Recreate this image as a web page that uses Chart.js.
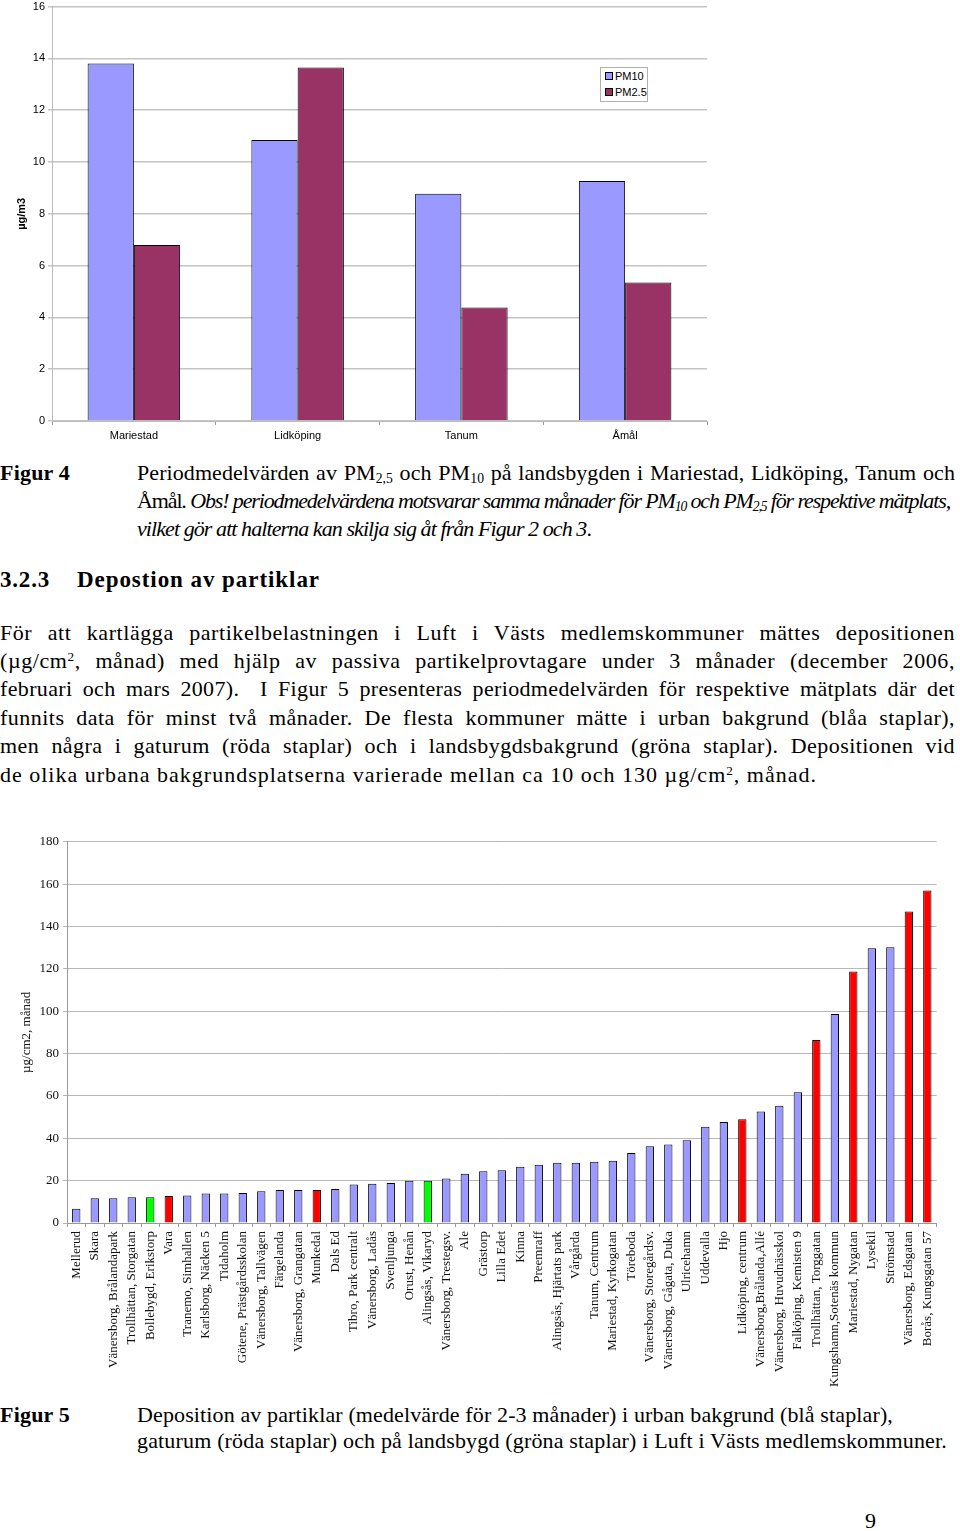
<!DOCTYPE html>
<html>
<head>
<meta charset="utf-8">
<script src="https://cdn.jsdelivr.net/npm/chart.js@4.4.1/dist/chart.umd.min.js"></script>
<style>
  body { margin: 0; width: 960px; height: 1531px; position: relative; background: #fff; overflow: hidden;
         font-family: "Liberation Serif", "DejaVu Serif", serif; color: #000; }
  .abs { position: absolute; white-space: nowrap; }
  .ln { position: absolute; font-size: 22px; line-height: 28px; white-space: nowrap; }
  .jl { text-align: justify; text-align-last: justify; }
  .bold { font-weight: bold; }
  sub { font-size: 0.62em; vertical-align: -0.25em; line-height: 0; }
  sup { font-size: 0.6em; vertical-align: 0.55em; line-height: 0; }
  #legend1 { position: absolute; left: 600px; top: 67px; width: 46px; height: 33px; border: 1px solid #b0b0b0;
             background: #fff; font-family: "Liberation Sans", Arial, sans-serif; font-size: 11px; }
  #legend1 div { height: 15px; line-height: 15px; padding-left: 4px; margin-top: 1px; }
  #legend1 span { display: inline-block; width: 6px; height: 6px; border: 1px solid #000; margin-right: 2px; vertical-align: 0px; }
</style>
</head>
<body>

<canvas id="pmChart" class="abs" style="left:0;top:-3px;" width="720" height="450"></canvas>
<div id="legend1">
  <div><span style="background:#9999FF"></span>PM10</div>
  <div><span style="background:#993366"></span>PM2.5</div>
</div>

<div class="ln bold fit" data-w="70" style="left:0;top:459px;">Figur 4</div>
<div class="ln fit jl" data-w="818" style="left:137px;top:459px;">Periodmedelvärden av PM<sub>2,5</sub> och PM<sub>10</sub> på landsbygden i Mariestad, Lidköping, Tanum och</div>
<div class="ln fit" data-w="813" style="left:137px;top:487px;">Åmål. <i>Obs! periodmedelvärdena motsvarar samma månader för PM<sub>10</sub> och PM<sub>2,5</sub> för respektive mätplats,</i></div>
<div class="ln fit" data-w="454" style="left:137px;top:515px;"><i>vilket gör att halterna kan skilja sig åt från Figur 2 och 3</i>.</div>

<div class="ln bold fit" data-w="50" style="left:0;top:566px;font-size:23px;">3.2.3</div>
<div class="ln bold fit" data-w="243" style="left:77px;top:566px;font-size:23px;">Depostion av partiklar</div>

<div class="ln fit jl" data-w="955" style="left:0;top:619px;">För att kartlägga partikelbelastningen i Luft i Västs medlemskommuner mättes depositionen</div>
<div class="ln fit jl" data-w="955" style="left:0;top:647px;">(µg/cm<sup>2</sup>, månad) med hjälp av passiva partikelprovtagare under 3 månader (december 2006,</div>
<div class="ln fit jl" data-w="955" style="left:0;top:675px;">februari och mars 2007).&nbsp; I Figur 5 presenteras periodmedelvärden för respektive mätplats där det</div>
<div class="ln fit jl" data-w="955" style="left:0;top:704px;">funnits data för minst två månader. De flesta kommuner mätte i urban bakgrund (blåa staplar),</div>
<div class="ln fit jl" data-w="955" style="left:0;top:732px;">men några i gaturum (röda staplar) och i landsbygdsbakgrund (gröna staplar). Depositionen vid</div>
<div class="ln fit" data-w="817" style="left:0;top:761px;">de olika urbana bakgrundsplatserna varierade mellan ca 10 och 130 µg/cm<sup>2</sup>, månad.</div>

<canvas id="depChart" class="abs" style="left:0;top:830px;" width="947" height="560"></canvas>

<div class="ln bold fit" data-w="70" style="left:0;top:1401px;">Figur 5</div>
<div class="ln fit" data-w="756" style="left:137px;top:1401px;">Deposition av partiklar (medelvärde för 2-3 månader) i urban bakgrund (blå staplar),</div>
<div class="ln fit" data-w="810" style="left:137px;top:1427px;">gaturum (röda staplar) och på landsbygd (gröna staplar) i Luft i Västs medlemskommuner.</div>

<div class="ln" style="left:865px;top:1507px;">9</div>

<script>
// Figur 4 - PM10 / PM2.5 på landsbygden
const pmSites = ["Mariestad", "Lidköping", "Tanum", "Åmål"];
const pm10 = [13.8, 10.85, 8.77, 9.27];
const pm25 = [6.8, 13.65, 4.38, 5.35];
const pmTicks = [0, 2, 4, 6, 8, 10, 12, 14, 16];

// Figur 5 - deposition, typ: u = urban bakgrund, g = gaturum, l = landsbygd
const depSites = [
  "Mellerud", "Skara", "Vänersborg, Brålandapark", "Trollhättan, Storgatan",
  "Bollebygd, Erikstorp", "Vara", "Tranemo, Simhallen", "Karlsborg, Näcken 5",
  "Tidaholm", "Götene, Prästgårdsskolan", "Vänersborg, Tallvägen", "Färgelanda",
  "Vänersborg, Grangatan", "Munkedal", "Dals Ed", "Tibro, Park centralt",
  "Vänersborg, Ladås", "Svenljunga", "Orust, Henån", "Alingsås, Vikaryd",
  "Vänersborg, Trestegsv.", "Ale", "Grästorp", "Lilla Edet", "Kinna", "Preemraff",
  "Alingsås, Hjärtats park", "Vårgårda", "Tanum, Centrum", "Mariestad, Kyrkogatan",
  "Töreboda", "Vänersborg, Storegårdsv.", "Vänersborg, Gågata, Duka", "Ulricehamn",
  "Uddevalla", "Hjo", "Lidköping, centrum", "Vänersborg,Brålanda,Allé",
  "Vänersborg, Huvudnässkol", "Falköping, Kemisten 9", "Trollhättan, Torggatan",
  "Kungshamn,Sotenäs kommun", "Mariestad, Nygatan", "Lysekil", "Strömstad",
  "Vänersborg, Edsgatan", "Borås, Kungsgatan 57"
];
const depValues = [
  6.7, 11.7, 11.7, 12.1, 12.1, 12.8, 13.0, 13.9, 13.9, 14.2, 15.0, 15.6,
  15.6, 15.6, 16.1, 18.2, 18.5, 18.9, 20.0, 20.0, 21.0, 23.3, 24.4, 24.9,
  26.6, 27.5, 28.5, 28.5, 28.9, 29.4, 33.0, 36.2, 37.1, 39.1, 45.4, 47.7,
  49.0, 52.7, 55.4, 61.7, 86.4, 98.7, 118.8, 129.7, 130.2, 147.1, 157.0
];
const depType = [
  "u", "u", "u", "u", "l", "g", "u", "u", "u", "u", "u", "u",
  "u", "g", "u", "u", "u", "u", "u", "l", "u", "u", "u", "u",
  "u", "u", "u", "u", "u", "u", "u", "u", "u", "u", "u", "u",
  "g", "u", "u", "u", "g", "u", "g", "u", "u", "g", "g"
];
const typeColors = { u: "#9999FF", g: "#FF0000", l: "#00FF00" };

// squeeze / stretch each text line to the width it has in the page
document.querySelectorAll(".fit").forEach(el => {
  const target = +el.dataset.w;
  const natural = el.getBoundingClientRect().width;
  const n = el.textContent.length;
  let ls = (target - natural) / n;
  if (el.classList.contains("jl")) {
    ls = ls > 0 ? ls * 0.35 : ls - 0.03;
    el.style.letterSpacing = ls + "px";
    el.style.whiteSpace = "normal";
    el.style.width = target + "px";
  } else {
    el.style.letterSpacing = ls + "px";
  }
});

const sans = "'Liberation Sans', Arial, sans-serif";
const serif = "'Liberation Serif', 'Times New Roman', serif";

new Chart(document.getElementById("pmChart"), {
  type: "bar",
  data: {
    labels: pmSites,
    datasets: [
      { label: "PM10", data: pm10, backgroundColor: "#9999FF", borderColor: "#000", borderWidth: 1 },
      { label: "PM2.5", data: pm25, backgroundColor: "#993366", borderColor: "#000", borderWidth: 1 }
    ]
  },
  options: {
    responsive: false,
    animation: false,
    layout: { padding: { top: 8, right: 13, left: 0, bottom: 0 } },
    plugins: { legend: { display: false }, tooltip: { enabled: false } },
    datasets: { bar: { categoryPercentage: 0.565, barPercentage: 1.0 } },
    scales: {
      x: {
        grid: { drawOnChartArea: false, drawTicks: true, tickLength: 4, color: "#999" },
        border: { color: "#bbb" },
        ticks: { color: "#000", font: { family: sans, size: 11 }, padding: 4 },
        afterFit: (s) => { s.height = 26; }
      },
      y: {
        min: 0, max: 16,
        afterBuildTicks: (s) => { s.ticks = pmTicks.map(v => ({ value: v })); },
        grid: { color: "#c4c4c4", tickLength: 4, lineWidth: 1.5 },
        border: { color: "#bbb" },
        ticks: { color: "#000", font: { family: sans, size: 11 }, padding: 3 },
        title: { display: true, text: "µg/m3", color: "#000",
                 font: { family: sans, size: 11, weight: "bold" }, padding: { top: 15, bottom: 0 } },
        afterFit: (s) => { s.width = 52; }
      }
    }
  }
});

new Chart(document.getElementById("depChart"), {
  type: "bar",
  data: {
    labels: depSites,
    datasets: [{
      data: depValues,
      backgroundColor: depType.map(t => typeColors[t]),
      borderColor: "#000",
      borderWidth: 1
    }]
  },
  options: {
    responsive: false,
    animation: false,
    layout: { padding: { top: 10, right: 7, left: 0, bottom: 0 } },
    plugins: { legend: { display: false }, tooltip: { enabled: false } },
    datasets: { bar: { categoryPercentage: 0.45, barPercentage: 1.0 } },
    scales: {
      x: {
        grid: { drawOnChartArea: false, drawTicks: true, tickLength: 4, color: "#999" },
        border: { color: "#999" },
        ticks: { color: "#111", font: { family: serif, size: 13 }, padding: 4,
                 autoSkip: false, minRotation: 90, maxRotation: 90 },
        afterFit: (s) => { s.height = 167; }
      },
      y: {
        min: 0, max: 180,
        ticks: { stepSize: 20, color: "#111", font: { family: serif, size: 13 }, padding: 4 },
        grid: { color: "#b8b8b8", tickLength: 4 },
        border: { color: "#999" },
        title: { display: true, text: "µg/cm2, månad", color: "#111",
                 font: { family: serif, size: 13 }, padding: { top: 19, bottom: 0 } },
        afterFit: (s) => { s.width = 67; }
      }
    }
  }
});
</script>
</body>
</html>
